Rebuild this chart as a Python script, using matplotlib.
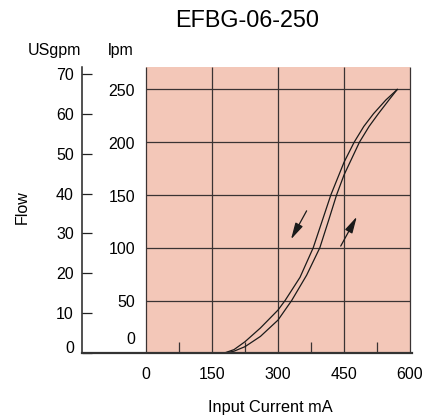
import matplotlib
matplotlib.use('Agg')
import matplotlib.pyplot as plt
from matplotlib import font_manager as fm

# ---- data ----
title = "EFBG-06-250"
current_ticks = [0, 150, 300, 450, 600]
current_minor = [75, 225, 375, 525]
lpm_ticks = [0, 50, 100, 150, 200, 250]
usgpm_ticks = [0, 10, 20, 30, 40, 50, 60, 70]

# decreasing-current branch (upper/left curve)
down_current = [176, 200, 225, 260, 300, 316, 350, 380, 400, 420, 450, 473, 495, 517, 545, 571]
down_flow = [0, 3.5, 11, 24, 41, 50, 72, 100, 125, 150, 181, 200, 215, 227, 240, 250]
# increasing-current branch (lower/right curve)
up_current = [176, 200, 225, 260, 300, 331, 365, 395, 415, 433, 450, 485, 507, 528, 552, 571]
up_flow = [0, 2, 6.3, 16, 31.5, 50, 74, 100, 126, 150, 169, 200, 215, 227, 240, 250]

LPM_PER_USGPM = 3.785

W, H = 430, 419
REG = ['Liberation Sans', 'DejaVu Sans']
names = {f.name for f in fm.fontManager.ttflist}
if 'Liberation Sans Narrow' in names:
    plt.rcParams['font.family'] = ['Liberation Sans Narrow', 'Liberation Sans', 'DejaVu Sans']
    fs_tick, fs_lab, fs_x = 13, 13, 14
else:
    plt.rcParams['font.family'] = REG
    fs_tick, fs_lab, fs_x = 11.5, 11.5, 11.8

fig = plt.figure(figsize=(W / 100, H / 100), dpi=100)
ax = fig.add_axes([82 / W, 1 - 353.3 / H, 330 / W, (353.3 - 67.3) / H])
ax.set_xlim(-145.5, 604.5)
ax.set_ylim(0, 271)

shade = '#F3C7B8'
grid_c = '#3a3333'
ax.axvspan(current_ticks[0], current_ticks[-1], color=shade, lw=0, zorder=0)
ax.vlines(current_ticks, 0, 271, color=grid_c, lw=0.9, zorder=1)
ax.hlines(lpm_ticks[1:], current_ticks[0], current_ticks[-1], color=grid_c, lw=0.9, zorder=1)

ax.plot(down_current, down_flow, color='#1a1a1a', lw=0.9, zorder=3)
ax.plot(up_current, up_flow, color='#1a1a1a', lw=0.9, zorder=3)

arrow = dict(arrowstyle='-|>,head_length=1.0,head_width=0.25', color='#1a1a1a',
             lw=0.9, shrinkA=0, shrinkB=0, mutation_scale=10)
ax.annotate('', xy=(329.5, 108), xytext=(365, 135), arrowprops=arrow, zorder=4)
ax.annotate('', xy=(479, 129.4), xytext=(442.5, 101.6), arrowprops=arrow, zorder=4)

for s in ['top', 'right']:
    ax.spines[s].set_visible(False)
ax.spines['left'].set_color('#222222')
ax.spines['left'].set_linewidth(1.1)
ax.spines['bottom'].set_color('#333333')
ax.spines['bottom'].set_linewidth(1.6)
ax.spines['bottom'].set_zorder(5)

# x ticks
ax.set_xticks(current_ticks)
ax.set_xticklabels([str(v) for v in current_ticks], fontsize=fs_tick)
ax.set_xticks(current_minor, minor=True)
ax.tick_params(axis='x', which='major', length=0, pad=10)
ax.tick_params(axis='x', which='minor', direction='in', length=7.9, width=0.9, color=grid_c)

# left USgpm ticks
ax.set_yticks([v * LPM_PER_USGPM for v in usgpm_ticks])
ax.set_yticklabels([str(v) for v in usgpm_ticks], fontsize=fs_tick)
ax.tick_params(axis='y', direction='in', length=7.2, width=0.9, pad=5.8, color='#222222')
ylabs = ax.get_yticklabels()
ylabs[0].set_va('baseline')

# lpm labels
for v in lpm_ticks:
    if v == 0:
        ax.annotate(str(v), xy=(0, 0), xytext=(-8, 6.5), textcoords='offset points',
                    ha='right', va='baseline', fontsize=fs_tick)
    else:
        ax.annotate(str(v), xy=(0, v), xytext=(-8, -1.5), textcoords='offset points',
                    ha='right', va='center', fontsize=fs_tick)

fig.text(247 / W, 1 - 26.7 / H, title, ha='center', va='baseline', fontsize=16.8, family=REG)
fig.text(54 / W, 1 - 55 / H, 'USgpm', ha='center', va='baseline', fontsize=fs_lab)
fig.text(121 / W, 1 - 55 / H, 'lpm', ha='center', va='baseline', fontsize=fs_lab)
fig.text(22 / W, 1 - 207 / H, 'Flow', ha='center', va='center', rotation=90, fontsize=fs_lab)
fig.text(270 / W, 1 - 411.7 / H, 'Input Current mA', ha='center', va='baseline', fontsize=fs_x)

fig.savefig('out.png', dpi=100)
